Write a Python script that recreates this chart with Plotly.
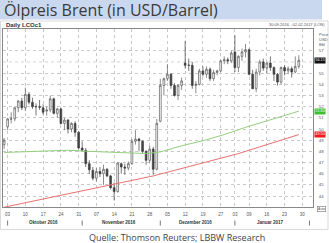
import plotly.graph_objects as go

# ---------------- data ----------------
dates = ["30.09", "03.10", "04.10", "05.10", "06.10", "07.10", "10.10", "11.10", "12.10", "13.10", "14.10",
         "17.10", "18.10", "19.10", "20.10", "21.10", "24.10", "25.10", "26.10", "27.10", "28.10", "31.10",
         "01.11", "02.11", "03.11", "04.11", "07.11", "08.11", "09.11", "10.11", "11.11", "14.11", "15.11",
         "16.11", "17.11", "18.11", "21.11", "22.11", "23.11", "24.11", "25.11", "28.11", "29.11", "30.11",
         "01.12", "02.12", "05.12", "06.12", "07.12", "08.12", "09.12", "12.12", "13.12", "14.12", "15.12",
         "16.12", "19.12", "20.12", "21.12", "22.12", "23.12", "27.12", "28.12", "29.12", "30.12",
         "03.01", "04.01", "05.01", "06.01", "09.01", "10.01", "11.01", "12.01", "13.01", "16.01", "17.01",
         "18.01", "19.01", "20.01", "23.01", "24.01", "25.01", "26.01", "27.01"]

open_ = [48.6, 50.2, 50.9, 50.9, 51.9, 52.5, 51.9, 53.1, 52.4, 52.0, 52.0,
         51.9, 51.6, 51.7, 52.7, 51.4, 51.8, 50.5, 50.8, 50.0, 50.5, 49.7,
         48.3, 48.1, 46.9, 46.3, 45.6, 46.2, 46.0, 46.4, 45.8, 44.75, 44.4,
         46.9, 46.6, 46.5, 46.9, 48.9, 49.1, 48.9, 48.0, 47.2, 48.2, 46.4,
         50.7, 53.9, 54.5, 54.9, 53.9, 53.0, 53.9, 55.9, 55.7, 55.7, 53.9,
         54.0, 55.2, 54.9, 55.35, 54.5, 55.05, 55.2, 56.1, 56.2, 56.1,
         56.9, 55.5, 56.5, 56.9, 57.1, 54.9, 53.6, 55.1, 56.0, 55.45, 55.9,
         55.5, 54.9, 54.2, 55.5, 55.2, 55.4, 55.1, 55.6]
high = [49.2, 51.0, 51.5, 52.0, 52.6, 52.8, 53.7, 53.3, 52.8, 52.3, 52.6,
        52.2, 52.0, 53.0, 52.8, 51.9, 51.9, 51.0, 50.9, 50.6, 50.7, 49.8,
        48.9, 48.3, 47.2, 46.6, 46.5, 46.6, 46.8, 46.5, 45.9, 45.2, 47.0,
        47.0, 46.9, 47.1, 49.1, 49.9, 49.2, 49.0, 48.1, 48.5, 48.4, 50.9,
        54.5, 54.6, 55.8, 55.0, 54.1, 54.0, 54.6, 57.9, 56.3, 56.0, 54.3,
        55.4, 55.6, 55.6, 55.5, 55.3, 55.3, 56.2, 56.5, 56.4, 57.0,
        58.4, 56.6, 57.2, 57.6, 57.2, 55.3, 55.4, 56.2, 56.3, 56.0, 56.5,
        55.6, 55.0, 55.6, 55.7, 55.6, 55.6, 56.5, 56.6]
low = [48.2, 49.9, 50.5, 50.7, 51.5, 51.7, 51.6, 52.2, 51.8, 51.2, 51.7,
       51.3, 51.2, 51.5, 51.3, 51.0, 50.4, 49.9, 49.6, 49.7, 49.3, 48.2,
       48.0, 46.6, 46.0, 45.4, 45.3, 45.7, 45.0, 45.7, 44.6, 43.6, 44.3,
       46.0, 45.9, 46.3, 46.8, 48.6, 48.0, 47.8, 46.8, 47.0, 45.9, 46.3,
       50.6, 53.0, 54.3, 53.6, 52.9, 52.6, 53.5, 55.4, 55.2, 53.6, 53.2,
       53.9, 54.7, 54.6, 54.3, 54.3, 54.8, 55.1, 55.8, 55.8, 55.9,
       55.1, 55.1, 56.1, 56.4, 54.8, 53.6, 53.3, 54.8, 55.2, 55.0, 55.2,
       54.3, 53.9, 54.0, 54.8, 54.9, 54.6, 55.0, 55.4]
close = [49.0, 50.9, 50.9, 51.9, 52.5, 51.9, 53.1, 52.4, 52.0, 52.0, 51.95,
         51.5, 51.7, 52.7, 51.4, 51.8, 50.5, 50.8, 50.0, 50.5, 49.7, 48.3,
         48.1, 46.9, 46.35, 45.6, 46.2, 46.0, 46.4, 45.8, 44.75, 44.4, 46.95,
         46.6, 46.5, 46.9, 48.9, 49.1, 48.95, 48.0, 47.2, 48.2, 46.4, 50.5,
         53.9, 54.5, 54.9, 53.9, 53.0, 53.9, 54.3, 55.7, 55.7, 53.9, 54.0,
         55.2, 54.9, 55.35, 54.5, 55.05, 55.2, 56.1, 56.2, 56.1, 56.8,
         55.5, 56.5, 56.9, 57.1, 54.9, 53.6, 55.1, 56.0, 55.45, 55.9, 55.5,
         54.9, 54.2, 55.5, 55.2, 55.4, 55.1, 55.6, 56.15]

# moving averages, read at a few trading-day positions
ma_green_idx = [0, 6, 12, 18, 24, 30, 36, 40, 44, 50, 56, 62, 68, 74, 80, 83]
ma_green_val = [47.9, 47.95, 48.05, 48.1, 48.0, 47.9, 47.85, 47.8, 47.95, 48.5, 48.95, 49.5, 50.15, 50.7, 51.3, 51.6]
ma_red_idx = [0, 6, 12, 18, 24, 30, 36, 42, 48, 54, 60, 66, 72, 78, 83]
ma_red_val = [43.0, 43.4, 43.8, 44.2, 44.6, 45.0, 45.4, 45.8, 46.3, 46.8, 47.3, 47.8, 48.4, 49.0, 49.5]

tick_labels = ["03", "10", "17", "24", "31", "07", "14", "21", "28", "05", "12", "19", "27",
               "03", "09", "16", "23", "30"]
tick_idx = [1, 6, 11, 16, 21, 26, 31, 36, 41, 46, 51, 56, 61, 65, 69, 74, 79, 84]
months = ["Oktober 2016", "November 2016", "Dezember 2016", "Januar 2017"]
month_start_idx = [1, 22, 44, 65, 86]
y_ticks = [44, 45, 46, 47, 48, 49, 50, 51, 52, 53, 54, 55, 57]   # 56 is covered by the price box

last_price = 56.15
last_green = 51.6
last_red = 49.5

# ---------------- figure ----------------
W, H = 329, 243
L, R, T, B = 3, 16, 29, 36
PW, PH = W - L - R, H - T - B


def px(x):
    return (x - L) / PW


def py(y):
    return (H - B - y) / PH


x = list(range(len(close)))

fig = go.Figure()
fig.add_trace(go.Scatter(x=ma_green_idx, y=ma_green_val, mode="lines",
                         line=dict(color="#93cf7e", width=1), hoverinfo="skip"))
fig.add_trace(go.Scatter(x=ma_red_idx, y=ma_red_val, mode="lines",
                         line=dict(color="#e8706f", width=1), hoverinfo="skip"))
fig.add_trace(go.Candlestick(
    x=x, open=open_, high=high, low=low, close=close,
    increasing=dict(line=dict(color="#5a5a5a", width=0.7), fillcolor="#ffffff"),
    decreasing=dict(line=dict(color="#3c3c3c", width=0.7), fillcolor="#444444"),
    whiskerwidth=0,
))

grid = dict(showgrid=True, gridcolor="#c8c8c8", griddash="dot", gridwidth=0.8)
fig.update_layout(
    width=W, height=H, margin=dict(l=L, r=R, t=T, b=B),
    paper_bgcolor="white", plot_bgcolor="white", showlegend=False,
    font=dict(family="Arial, Liberation Sans", color="#444"),
    xaxis=dict(range=[-0.3, 87.0], tickvals=tick_idx, ticktext=tick_labels,
               tickfont=dict(size=4.5, color="#555"), ticks="", ticklabelstandoff=3,
               rangeslider=dict(visible=False), zeroline=False,
               showline=True, linecolor="#888", linewidth=0.8, mirror=True, **grid),
    yaxis=dict(range=[43.02, 58.95], side="right", tickvals=y_ticks,
               tickfont=dict(size=4.3, color="#555"), ticks="", ticklabelstandoff=4,
               zeroline=False, showline=True, linecolor="#888", linewidth=0.8, mirror=True, **grid),
)

shapes = [
    # title bar
    dict(type="rect", xref="paper", yref="paper", x0=px(0), x1=px(322), y0=py(0), y1=py(19.5),
         fillcolor="#c9d8ef", line=dict(width=0), layer="below"),
    # chart panel frame
    dict(type="rect", xref="paper", yref="paper", x0=px(0.5), x1=px(328), y0=py(21), y1=py(229.5),
         fillcolor="rgba(0,0,0,0)", line=dict(color="#d0d0d0", width=0.8), layer="below"),
]
for m in month_start_idx:
    shapes.append(dict(type="line", xref="x", yref="paper", x0=m, x1=m, y0=py(220.5), y1=py(225.5),
                       line=dict(color="#555", width=0.8)))
# 56 grid line (its label is hidden by the price box)
shapes.append(dict(type="line", xref="paper", yref="y", x0=0, x1=1, y0=56, y1=56,
                   line=dict(color="#c8c8c8", width=0.8, dash="dot"), layer="below"))
fig.update_layout(shapes=shapes)

ann = [
    dict(text="Ölpreis Brent (in USD/Barrel)", xref="paper", yref="paper", x=px(2), y=py(10),
         xanchor="left", yanchor="middle", showarrow=False,
         font=dict(family="Open Sans", size=16, color="#3a3a3a")),
    dict(text="<b>Daily LCOc1</b>", xref="paper", yref="paper", x=px(4), y=py(24.5),
         xanchor="left", yanchor="middle", showarrow=False, font=dict(size=6, color="#333")),
    dict(text="30.09.2016 - 02.02.2017 (LON)", xref="paper", yref="paper", x=px(327), y=py(24.5),
         xanchor="right", yanchor="middle", showarrow=False, font=dict(size=4, color="#555")),
    dict(text="Price<br>USD<br>Bbl", xref="paper", yref="paper", x=px(317), y=py(30.5),
         xanchor="left", yanchor="top", align="left", showarrow=False,
         font=dict(size=4, color="#555")),
    dict(text="Quelle: Thomson Reuters; LBBW Research", xref="paper", yref="paper", x=px(177), y=py(237),
         xanchor="center", yanchor="middle", showarrow=False,
         font=dict(family="Open Sans", size=9, color="#444")),
    dict(text="Auto", xref="paper", yref="paper", x=px(321), y=py(209), xanchor="center",
         yanchor="middle", showarrow=False, font=dict(size=3.5, color="#555"),
         bordercolor="#777", borderwidth=0.6, borderpad=0.5, bgcolor="white"),
]
for val, bg in [(last_price, "#111111"), (last_green, "#3fbf2f"), (last_red, "#ee1c1c")]:
    ann.append(dict(text=f"{val:.2f}", xref="paper", yref="y", x=px(314), y=val,
                    xanchor="left", yanchor="middle", showarrow=False,
                    font=dict(size=3.8, color="white"), bgcolor=bg, borderpad=0.3))
for i, mname in enumerate(months):
    mid = (month_start_idx[i] + month_start_idx[i + 1] - 1) / 2
    ann.append(dict(text=f"<b>{mname}</b>", xref="x", yref="paper", x=mid, y=py(222.5),
                    xanchor="center", yanchor="middle", showarrow=False,
                    font=dict(size=4.5, color="#333")))
fig.update_layout(annotations=ann)

fig.write_html("out.html")
